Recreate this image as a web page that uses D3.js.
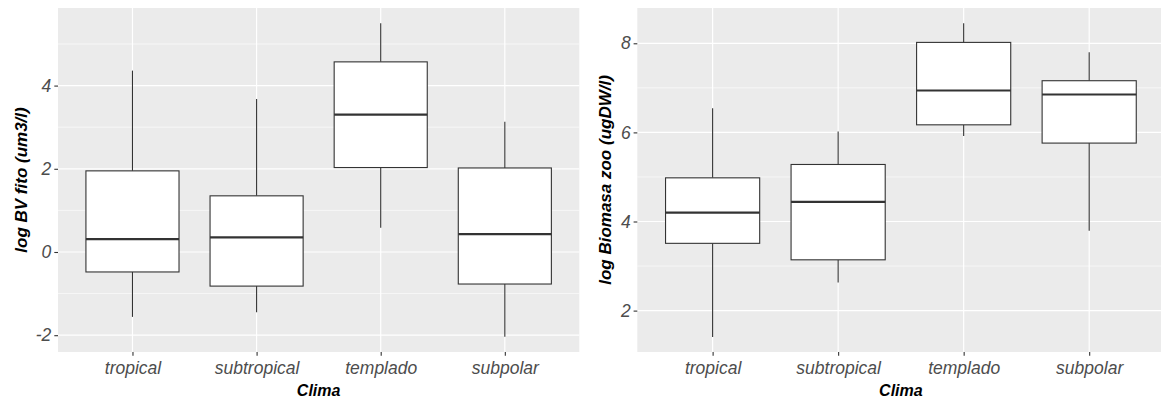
<!DOCTYPE html>
<html>
<head>
<meta charset="utf-8">
<script src="https://cdn.jsdelivr.net/npm/d3@7"></script>
<style>
  html, body { margin: 0; padding: 0; background: #ffffff; }
  svg { display: block; font-family: "Liberation Sans", Arial, sans-serif; }
</style>
</head>
<body>
<svg id="chart" width="1161" height="400"></svg>
<script>
// Climate categories shared by both panels
const categories = ["tropical", "subtropical", "templado", "subpolar"];

// Phytoplankton biovolume (log um3/l): five-number summaries per climate
const fitoLower  = [-1.56, -1.45, 0.58, -2.04];
const fitoQ1     = [-0.48, -0.82, 2.03, -0.77];
const fitoMedian = [0.31, 0.35, 3.30, 0.43];
const fitoQ3     = [1.95, 1.35, 4.57, 2.02];
const fitoUpper  = [4.36, 3.68, 5.50, 3.13];

// Zooplankton biomass (log ugDW/l): five-number summaries per climate
const zooLower  = [1.41, 2.63, 5.92, 3.79];
const zooQ1     = [3.51, 3.14, 6.17, 5.76];
const zooMedian = [4.20, 4.44, 6.94, 6.85];
const zooQ3     = [4.98, 5.28, 8.02, 7.16];
const zooUpper  = [6.54, 6.02, 8.45, 7.80];

// Axis ticks
const fitoTicks = [-2, 0, 2, 4];
const fitoMinor = [-1, 1, 3, 5];
const zooTicks = [2, 4, 6, 8];
const zooMinor = [3, 5, 7];

const svg = d3.select("#chart");

function panel(cfg) {
  const { x0, x1, y0, y1, domain, lower, q1, med, q3, upper, ticks, minor, ylabel, ylabelX } = cfg;

  const x = d3.scalePoint().domain(categories).range([x0, x1]).padding(0.6);
  const y = d3.scaleLinear().domain(domain).range([y1, y0]);
  const boxW = x.step() * 0.75;

  const g = svg.append("g");

  // panel background
  g.append("rect")
    .attr("x", x0).attr("y", y0)
    .attr("width", x1 - x0).attr("height", y1 - y0)
    .attr("fill", "#EBEBEB");

  // minor grid
  g.selectAll(".minor").data(minor).join("line")
    .attr("x1", x0).attr("x2", x1)
    .attr("y1", d => y(d)).attr("y2", d => y(d))
    .attr("stroke", "#ffffff").attr("stroke-width", 0.6);

  // major grid (horizontal)
  g.selectAll(".majorY").data(ticks).join("line")
    .attr("x1", x0).attr("x2", x1)
    .attr("y1", d => y(d)).attr("y2", d => y(d))
    .attr("stroke", "#ffffff").attr("stroke-width", 1.2);

  // major grid (vertical)
  g.selectAll(".majorX").data(categories).join("line")
    .attr("x1", d => x(d)).attr("x2", d => x(d))
    .attr("y1", y0).attr("y2", y1)
    .attr("stroke", "#ffffff").attr("stroke-width", 1.2);

  const rows = categories.map((c, i) => ({ c, lo: lower[i], q1: q1[i], med: med[i], q3: q3[i], hi: upper[i] }));

  const boxes = g.selectAll(".box").data(rows).join("g");

  // whiskers
  boxes.append("line")
    .attr("x1", d => x(d.c)).attr("x2", d => x(d.c))
    .attr("y1", d => y(d.hi)).attr("y2", d => y(d.q3))
    .attr("stroke", "#333333").attr("stroke-width", 1.1);
  boxes.append("line")
    .attr("x1", d => x(d.c)).attr("x2", d => x(d.c))
    .attr("y1", d => y(d.q1)).attr("y2", d => y(d.lo))
    .attr("stroke", "#333333").attr("stroke-width", 1.1);

  // boxes
  boxes.append("rect")
    .attr("x", d => x(d.c) - boxW / 2)
    .attr("y", d => y(d.q3))
    .attr("width", boxW)
    .attr("height", d => y(d.q1) - y(d.q3))
    .attr("fill", "#ffffff")
    .attr("stroke", "#333333").attr("stroke-width", 1.1);

  // medians
  boxes.append("line")
    .attr("x1", d => x(d.c) - boxW / 2).attr("x2", d => x(d.c) + boxW / 2)
    .attr("y1", d => y(d.med)).attr("y2", d => y(d.med))
    .attr("stroke", "#333333").attr("stroke-width", 2.2);

  // axes
  const xAxis = g.append("g")
    .attr("transform", `translate(0,${y1})`)
    .call(d3.axisBottom(x).tickSize(3.7).tickPadding(3));
  const yAxis = g.append("g")
    .attr("transform", `translate(${x0},0)`)
    .call(d3.axisLeft(y).tickValues(ticks).tickFormat(d3.format("d")).tickSize(3.7).tickPadding(3));

  [xAxis, yAxis].forEach(a => {
    a.select(".domain").remove();
    a.selectAll(".tick line").attr("stroke", "#333333").attr("stroke-width", 1.1);
    a.selectAll(".tick text")
      .attr("fill", "#4D4D4D")
      .style("font-size", "17.5px")
      .style("font-style", "italic")
      .style("font-family", "'Liberation Sans', Arial, sans-serif");
  });
  xAxis.selectAll(".tick text").attr("dy", "0.9em");
  yAxis.selectAll(".tick text").text(d => d < 0 ? "-" + Math.abs(d) : d);

  // x title
  g.append("text")
    .attr("x", (x(categories[0]) + x(categories[3])) / 2)
    .attr("y", 396)
    .attr("text-anchor", "middle")
    .style("font-size", "16px")
    .style("font-weight", "bold")
    .style("font-style", "italic")
    .attr("fill", "#000000")
    .text("Clima");

  // y title
  g.append("text")
    .attr("transform", `translate(${ylabelX},${(y0 + y1) / 2}) rotate(-90)`)
    .attr("text-anchor", "middle")
    .style("font-size", "17px")
    .style("font-weight", "bold")
    .style("font-style", "italic")
    .attr("fill", "#000000")
    .text(ylabel);
}

panel({
  x0: 58, x1: 579.3, y0: 8, y1: 352,
  domain: [-2.404, 5.865],
  lower: fitoLower, q1: fitoQ1, med: fitoMedian, q3: fitoQ3, upper: fitoUpper,
  ticks: fitoTicks, minor: fitoMinor,
  ylabel: "log BV fito (um3/l)", ylabelX: 27
});

panel({
  x0: 637.3, x1: 1164.5, y0: 8, y1: 352,
  domain: [1.071, 8.792],
  lower: zooLower, q1: zooQ1, med: zooMedian, q3: zooQ3, upper: zooUpper,
  ticks: zooTicks, minor: zooMinor,
  ylabel: "log Biomasa zoo (ugDW/l)", ylabelX: 611
});
</script>
</body>
</html>
